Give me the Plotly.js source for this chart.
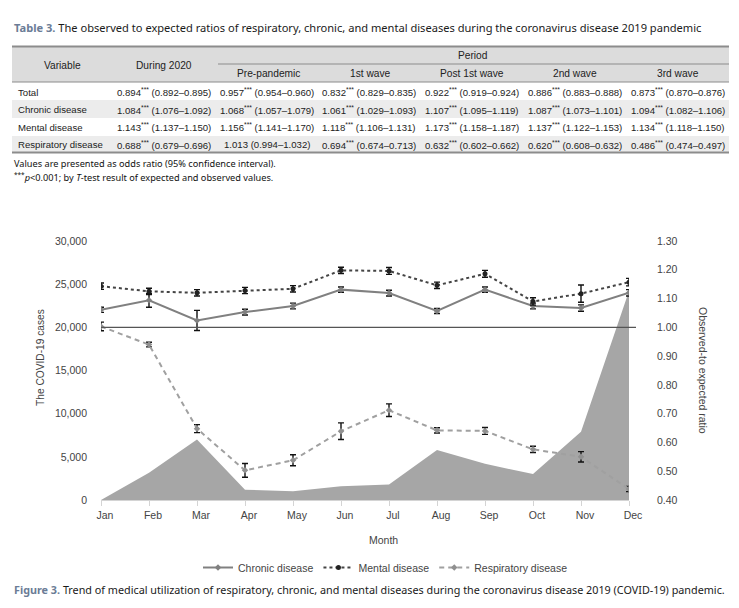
<!DOCTYPE html>
<html>
<head>
<meta charset="utf-8">
<script src="https://cdn.plot.ly/plotly-3.0.1.min.js"></script>
<style>
  html, body { margin: 0; padding: 0; background: #ffffff; }
  #chart { width: 739px; height: 608px; }
</style>
</head>
<body>
<div id="chart"></div>
<script>
// ---------- Table data ----------
var tableTitleLead = 'Table 3.';
var tableTitleText = 'The observed to expected ratios of respiratory, chronic, and mental diseases during the coronavirus disease 2019 pandemic';
var rowLabels = ['Total', 'Chronic disease', 'Mental disease', 'Respiratory disease'];
var periodHeaders = ['Pre-pandemic', '1st wave', 'Post 1st wave', '2nd wave', '3rd wave'];
var during2020Val = ['0.894', '1.084', '1.143', '0.688'];
var during2020CI  = ['0.892–0.895', '1.076–1.092', '1.137–1.150', '0.679–0.696'];
var during2020Sig = [true, true, true, true];
var prePandemicVal = ['0.957', '1.068', '1.156', '1.013'];
var prePandemicCI  = ['0.954–0.960', '1.057–1.079', '1.141–1.170', '0.994–1.032'];
var prePandemicSig = [true, true, true, false];
var wave1Val = ['0.832', '1.061', '1.118', '0.694'];
var wave1CI  = ['0.829–0.835', '1.029–1.093', '1.106–1.131', '0.674–0.713'];
var wave1Sig = [true, true, true, true];
var post1Val = ['0.922', '1.107', '1.173', '0.632'];
var post1CI  = ['0.919–0.924', '1.095–1.119', '1.158–1.187', '0.602–0.662'];
var post1Sig = [true, true, true, true];
var wave2Val = ['0.886', '1.087', '1.137', '0.620'];
var wave2CI  = ['0.883–0.888', '1.073–1.101', '1.122–1.153', '0.608–0.632'];
var wave2Sig = [true, true, true, true];
var wave3Val = ['0.873', '1.094', '1.134', '0.486'];
var wave3CI  = ['0.870–0.876', '1.082–1.106', '1.118–1.150', '0.474–0.497'];
var wave3Sig = [true, true, true, true];

// ---------- Figure data ----------
var months = ['Jan', 'Feb', 'Mar', 'Apr', 'May', 'Jun', 'Jul', 'Aug', 'Sep', 'Oct', 'Nov', 'Dec'];
var covidCases = [0, 3150, 7000, 1200, 1000, 1600, 1800, 5800, 4200, 3000, 7900, 24200];
var chronicRatio = [1.061, 1.094, 1.024, 1.053, 1.074, 1.131, 1.119, 1.057, 1.131, 1.074, 1.067, 1.120];
var chronicErr   = [0.009, 0.024, 0.035, 0.010, 0.010, 0.009, 0.010, 0.009, 0.009, 0.010, 0.011, 0.011];
var mentalRatio  = [1.143, 1.125, 1.120, 1.128, 1.134, 1.198, 1.196, 1.146, 1.186, 1.090, 1.117, 1.157];
var mentalErr    = [0.011, 0.011, 0.011, 0.011, 0.011, 0.011, 0.012, 0.011, 0.012, 0.013, 0.030, 0.013];
var respRatio    = [1.003, 0.940, 0.648, 0.503, 0.538, 0.639, 0.712, 0.642, 0.640, 0.576, 0.550, 0.438];
var respErr      = [0.015, 0.008, 0.014, 0.024, 0.019, 0.029, 0.022, 0.009, 0.012, 0.011, 0.018, 0.009];
var leftTicks = [0, 5000, 10000, 15000, 20000, 25000, 30000];
var rightTicks = [0.4, 0.5, 0.6, 0.7, 0.8, 0.9, 1.0, 1.1, 1.2, 1.3];
var refRatio = 1.0;
var figureLead = 'Figure 3.';
var figureText = 'Trend of medical utilization of respiratory, chronic, and mental diseases during the coronavirus disease 2019 (COVID-19) pandemic.';

// ---------- geometry helpers (page pixels -> paper) ----------
var W = 739, H = 608;
var M = {l: 101, r: 110, t: 241, b: 108};
var PW = W - M.l - M.r, PH = H - M.t - M.b;
function px(x) { return (x - M.l) / PW; }
function py(y) { return (H - M.b - y) / PH; }

var NARROW = '"Liberation Sans Narrow", "Liberation Sans", Arial, sans-serif';
var SANS = '"Noto Sans", "Open Sans", sans-serif';

var annotations = [];
var shapes = [];
function txt(x, y, text, opts) {
  opts = opts || {};
  annotations.push({
    xref: 'paper', yref: 'paper', x: px(x), y: py(y), text: text, showarrow: false,
    xanchor: opts.xanchor || 'center', yanchor: opts.yanchor || 'middle',
    font: {family: opts.family || NARROW, size: opts.size || 11, color: opts.color || '#222'},
    textangle: opts.angle || 0
  });
}
function rect(x0, y0, x1, y1, fill) {
  shapes.push({type: 'rect', xref: 'paper', yref: 'paper', x0: px(x0), x1: px(x1), y0: py(y0), y1: py(y1),
    fillcolor: fill, line: {width: 0}, layer: 'below'});
}
function hline(x0, x1, y, color, width) {
  shapes.push({type: 'line', xref: 'paper', yref: 'paper', x0: px(x0), x1: px(x1), y0: py(y), y1: py(y),
    line: {color: color, width: width}});
}

// ---------- Table ----------
txt(12, 27, '<b><span style="color:#6b7c96">' + tableTitleLead + '</span></b> ' + tableTitleText,
    {xanchor: 'left', family: SANS, size: 11.1, color: '#1a1a1a'});

var TL = 12, TR = 729;
rect(TL, 46, TR, 82, '#dcdcdc');
var rowTop = [82, 100, 118, 136];
var rowBot = [100, 118, 136, 153];
var rowMid = [92, 109.5, 127, 144.5];
for (var r = 0; r < rowLabels.length; r++) {
  if (r % 2 === 1) rect(TL, rowTop[r], TR, rowBot[r], '#ececec');
}
hline(TL, TR, 46.5, '#8c8c8c', 2);
hline(218, TR, 64, '#8c8c8c', 1);
hline(TL, TR, 82, '#8c8c8c', 1.2);
hline(TL, TR, 152.5, '#8c8c8c', 2);

var HFS = 10.2, CFS = 9.6;
txt(62, 65, 'Variable', {size: HFS});
txt(164, 65, 'During 2020', {size: HFS});
txt(473, 55, 'Period', {size: HFS});
var colCenters = [268, 370, 472, 575, 678];
for (var c = 0; c < periodHeaders.length; c++) {
  txt(colCenters[c], 73, periodHeaders[c], {size: HFS});
}
var cols = [
  {x: 164, v: during2020Val, ci: during2020CI, s: during2020Sig},
  {x: 267, v: prePandemicVal, ci: prePandemicCI, s: prePandemicSig},
  {x: 369, v: wave1Val, ci: wave1CI, s: wave1Sig},
  {x: 472, v: post1Val, ci: post1CI, s: post1Sig},
  {x: 575, v: wave2Val, ci: wave2CI, s: wave2Sig},
  {x: 678, v: wave3Val, ci: wave3CI, s: wave3Sig}
];
for (var r2 = 0; r2 < rowLabels.length; r2++) {
  txt(16, rowMid[r2], rowLabels[r2], {xanchor: 'left', size: CFS});
  for (var k = 0; k < cols.length; k++) {
    var col = cols[k];
    var t = col.s[r2]
      ? col.v[r2] + '<sup>***</sup> (' + col.ci[r2] + ')'
      : col.v[r2] + ' (' + col.ci[r2] + ')';
    txt(col.x, rowMid[r2], t, {size: CFS});
  }
}
txt(12, 163, 'Values are presented as odds ratio (95% confidence interval).', {xanchor: 'left', family: SANS, size: 9.2, color: '#111'});
txt(12, 177, '<sup>***</sup><i>p</i>&lt;0.001; by <i>T</i>-test result of expected and observed values.', {xanchor: 'left', family: SANS, size: 9.2, color: '#111'});

// ---------- Figure decorations ----------
txt(40, 358, 'The COVID-19 cases', {angle: -90, size: 10.2, color: '#444'});
txt(703, 370, 'Observed-to expected ratio', {angle: 90, size: 10.5, color: '#444'});
txt(383, 540, 'Month', {size: 10.5, color: '#444'});
txt(12, 589, '<b><span style="color:#6b7c96">' + figureLead + '</span></b> ' + figureText,
    {xanchor: 'left', family: SANS, size: 10.8, color: '#1a1a1a'});

// reference line at ratio 1.0 and triangle marker
shapes.push({type: 'line', xref: 'paper', yref: 'y2', x0: 0, x1: px(636), y0: refRatio, y1: refRatio,
  line: {color: '#555555', width: 1.3}, layer: 'above'});
shapes.push({type: 'path', xref: 'x', yref: 'y2', xsizemode: 'pixel', ysizemode: 'pixel',
  xanchor: months.length - 1, yanchor: refRatio,
  path: 'M 6 0 L 18 -6.5 L 18 6.5 Z', fillcolor: '#555555', line: {width: 0}, layer: 'above'});

// ---------- Traces ----------
var traces = [
  {x: months, y: covidCases, type: 'scatter', mode: 'none', fill: 'tozeroy', fillcolor: '#a6a6a6',
   yaxis: 'y', showlegend: false, hoverinfo: 'skip'},
  {x: months, y: chronicRatio, type: 'scatter', mode: 'lines+markers', name: 'Chronic disease', yaxis: 'y2',
   line: {color: '#808080', width: 2}, marker: {color: '#808080', size: 5, symbol: 'diamond'},
   error_y: {type: 'data', array: chronicErr, visible: true, color: '#111', thickness: 1.4, width: 3}},
  {x: months, y: mentalRatio, type: 'scatter', mode: 'lines+markers', name: 'Mental disease', yaxis: 'y2',
   line: {color: '#444444', width: 2, dash: 'dot'}, marker: {color: '#222', size: 5, symbol: 'circle'},
   error_y: {type: 'data', array: mentalErr, visible: true, color: '#111', thickness: 1.4, width: 3}},
  {x: months, y: respRatio, type: 'scatter', mode: 'lines+markers', name: 'Respiratory disease', yaxis: 'y2',
   line: {color: '#a0a0a0', width: 2, dash: '5px,4px'}, marker: {color: '#909090', size: 5, symbol: 'diamond'},
   error_y: {type: 'data', array: respErr, visible: true, color: '#111', thickness: 1.4, width: 3}}
];

var layout = {
  width: W, height: H,
  margin: M,
  paper_bgcolor: '#ffffff', plot_bgcolor: '#ffffff',
  font: {family: NARROW, size: 10.5, color: '#444'},
  showlegend: true,
  legend: {orientation: 'h', x: px(198), xanchor: 'left', y: py(553), yanchor: 'top',
    font: {family: NARROW, size: 10.5, color: '#444'}, bgcolor: 'rgba(0,0,0,0)', itemwidth: 30},
  xaxis: {type: 'category', range: [0, 11], showgrid: false, zeroline: false, showline: true,
    linecolor: '#d4d4d4', linewidth: 1.2, ticks: 'outside', ticklen: 5, tickcolor: '#d4d4d4',
    tickfont: {size: 10.5, color: '#444'}, ticklabelshift: 4, fixedrange: true},
  yaxis: {range: [0, 30000], tickvals: leftTicks, tickformat: ',', showgrid: false, zeroline: false,
    showline: false, ticks: '', tickfont: {size: 10.5, color: '#444'}, ticklabelstandoff: 13},
  yaxis2: {range: [0.4, 1.3], tickvals: rightTicks, tickformat: '.2f', overlaying: 'y', side: 'right',
    showgrid: false, zeroline: false, showline: false, ticks: '', tickfont: {size: 10.5, color: '#444'},
    ticklabelstandoff: 27},
  annotations: annotations,
  shapes: shapes
};

Plotly.newPlot('chart', traces, layout, {displayModeBar: false, staticPlot: true});
</script>
</body>
</html>
